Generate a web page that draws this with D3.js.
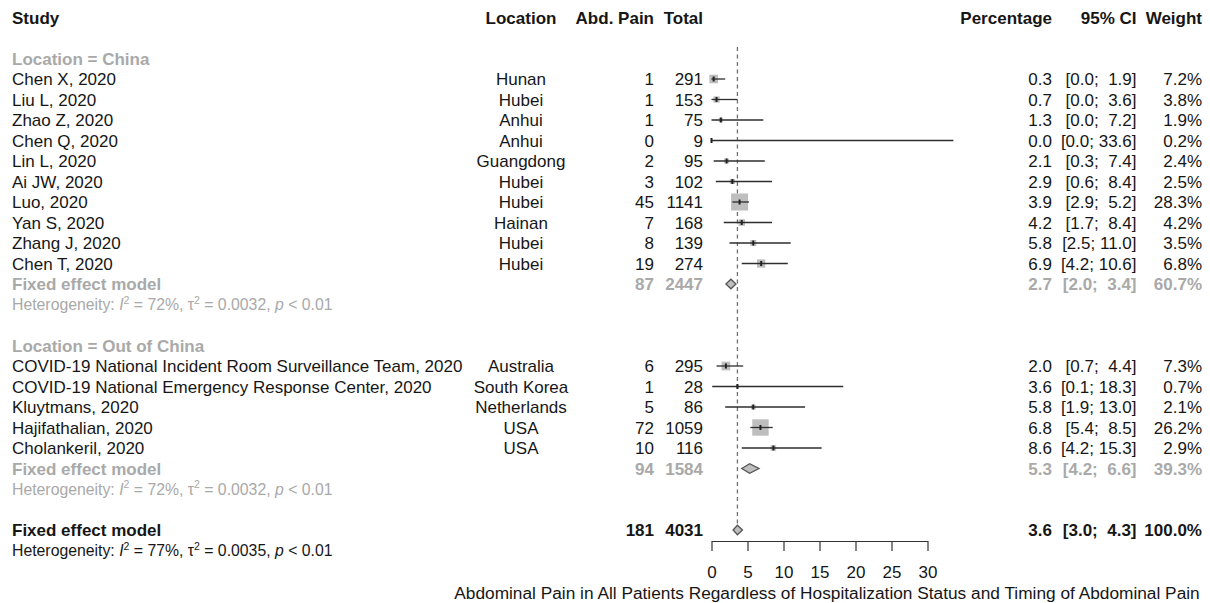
<!DOCTYPE html>
<html>
<head>
<meta charset="utf-8">
<script src="https://cdn.jsdelivr.net/npm/d3@7"></script>
<style>
  html, body { margin: 0; padding: 0; background: #fff; }
  svg text { font-family: "Liberation Sans", Arial, Helvetica, sans-serif; white-space: pre; }
</style>
</head>
<body>
<svg id="chart" width="1210" height="603"></svg>
<script>
// ---------- data ----------
const headers = ["Study", "Location", "Abd. Pain", "Total", "Percentage", "95% CI", "Weight"];

const groupLabels = ["Location = China", "Location = Out of China"];

const studiesChina = ["Chen X, 2020", "Liu L, 2020", "Zhao Z, 2020", "Chen Q, 2020", "Lin L, 2020",
  "Ai JW, 2020", "Luo, 2020", "Yan S, 2020", "Zhang J, 2020", "Chen T, 2020"];
const locationsChina = ["Hunan", "Hubei", "Anhui", "Anhui", "Guangdong", "Hubei", "Hubei", "Hainan", "Hubei", "Hubei"];
const eventsChina = [1, 1, 1, 0, 2, 3, 45, 7, 8, 19];
const totalsChina = [291, 153, 75, 9, 95, 102, 1141, 168, 139, 274];
const estChina = [0.3, 0.7, 1.3, 0.0, 2.1, 2.9, 3.9, 4.2, 5.8, 6.9];
const lowerChina = [0.0, 0.0, 0.0, 0.0, 0.3, 0.6, 2.9, 1.7, 2.5, 4.2];
const upperChina = [1.9, 3.6, 7.2, 33.6, 7.4, 8.4, 5.2, 8.4, 11.0, 10.6];
const weightChina = [7.2, 3.8, 1.9, 0.2, 2.4, 2.5, 28.3, 4.2, 3.5, 6.8];

const studiesOut = ["COVID-19 National Incident Room Surveillance Team, 2020",
  "COVID-19 National Emergency Response Center, 2020", "Kluytmans, 2020", "Hajifathalian, 2020", "Cholankeril, 2020"];
const locationsOut = ["Australia", "South Korea", "Netherlands", "USA", "USA"];
const eventsOut = [6, 1, 5, 72, 10];
const totalsOut = [295, 28, 86, 1059, 116];
const estOut = [2.0, 3.6, 5.8, 6.8, 8.6];
const lowerOut = [0.7, 0.1, 1.9, 5.4, 4.2];
const upperOut = [4.4, 18.3, 13.0, 8.5, 15.3];
const weightOut = [7.3, 0.7, 2.1, 26.2, 2.9];

// subgroup + overall fixed-effect summaries: [China, Out of China, Overall]
const summaryEvents = [87, 94, 181];
const summaryTotals = [2447, 1584, 4031];
const summaryEst = [2.7, 5.3, 3.6];
const summaryLower = [2.0, 4.2, 3.0];
const summaryUpper = [3.4, 6.6, 4.3];
const summaryWeight = [60.7, 39.3, 100.0];
const hetI2 = ["72%", "72%", "77%"];
const hetTau2 = ["0.0032", "0.0032", "0.0035"];
const hetP = ["< 0.01", "< 0.01", "< 0.01"];

const xTicks = [0, 5, 10, 15, 20, 25, 30];
const xLabel = "Abdominal Pain in All Patients Regardless of Hospitalization Status and Timing of Abdominal Pain";

// ---------- layout ----------
const svg = d3.select("#chart");
const FONT = 17, HFONT = 15.8;
const black = "#161616", grey = "#a9a9a9";
const colX = { study: 12, loc: 521, ev: 654, tot: 703, est: 1052, ci: 1136.5, w: 1202 };

const x = d3.scaleLinear().domain([0, 30]).range([711.5, 927.5]);
const y = d3.scaleLinear().domain([0, 1]).range([79, 99.5]); // row index -> y centre

function fmt1(v) { return v.toFixed(1); }
function ciStr(lo, up) {
  let u = fmt1(up); while (u.length < 4) u = " " + u;
  return "[" + fmt1(lo) + "; " + u + "]";
}
function txt(xp, row, s, anchor, opts = {}) {
  return svg.append("text")
    .attr("x", xp).attr("y", y(row) + (opts.size || FONT) * 0.355)
    .attr("text-anchor", anchor)
    .attr("font-size", opts.size || FONT)
    .attr("font-weight", opts.bold ? "bold" : "normal")
    .attr("fill", opts.color || black)
    .text(s);
}

// headers
txt(colX.study, -3, headers[0], "start", { bold: true });
txt(colX.loc, -3, headers[1], "middle", { bold: true });
txt(colX.ev, -3, headers[2], "end", { bold: true });
txt(colX.tot, -3, headers[3], "end", { bold: true });
txt(colX.est, -3, headers[4], "end", { bold: true });
txt(colX.ci, -3, headers[5], "end", { bold: true });
txt(colX.w, -3, headers[6], "end", { bold: true });

// reference (fixed effect) dashed line
svg.append("line")
  .attr("x1", x(summaryEst[2])).attr("x2", x(summaryEst[2]))
  .attr("y1", 47).attr("y2", y(22) - 6)
  .attr("stroke", "#707070").attr("stroke-width", 1.3).attr("stroke-dasharray", "4,3.5");

function studyRows(startRow, names, locs, ev, tot, est, lo, up, w) {
  names.forEach((n, i) => {
    const r = startRow + i;
    txt(colX.study, r, n, "start");
    txt(colX.loc, r, locs[i], "middle");
    txt(colX.ev, r, String(ev[i]), "end");
    txt(colX.tot, r, String(tot[i]), "end");
    txt(colX.est, r, fmt1(est[i]), "end");
    txt(colX.ci, r, ciStr(lo[i], up[i]), "end");
    txt(colX.w, r, fmt1(w[i]) + "%", "end");
    const side = 3.2 * Math.sqrt(w[i]);
    svg.append("rect")
      .attr("x", x(est[i]) - side / 2).attr("y", y(r) - side / 2)
      .attr("width", side).attr("height", side)
      .attr("fill", "#bebebe");
    svg.append("line")
      .attr("x1", x(lo[i])).attr("x2", x(up[i]))
      .attr("y1", y(r)).attr("y2", y(r))
      .attr("stroke", "#2e2e2e").attr("stroke-width", 1.3);
    svg.append("rect")
      .attr("x", x(est[i]) - 1).attr("y", y(r) - 2.5)
      .attr("width", 2).attr("height", 5)
      .attr("fill", "#222");
  });
}

function hetRow(row, k, color) {
  const t = svg.append("text")
    .attr("x", colX.study).attr("y", y(row) + HFONT * 0.355)
    .attr("font-size", HFONT).attr("fill", color);
  t.append("tspan").text("Heterogeneity: ");
  t.append("tspan").attr("font-style", "italic").text("I");
  t.append("tspan").attr("font-size", 10.5).attr("dy", -6.5).text("2");
  t.append("tspan").attr("dy", 6.5).text(" = " + hetI2[k] + ", τ");
  t.append("tspan").attr("font-size", 10.5).attr("dy", -6.5).text("2");
  t.append("tspan").attr("dy", 6.5).text(" = " + hetTau2[k] + ", ");
  t.append("tspan").attr("font-style", "italic").text("p");
  t.append("tspan").text(" " + hetP[k]);
}

function summaryRow(row, k, color) {
  const o = { bold: true, color: color };
  txt(colX.study, row, "Fixed effect model", "start", o);
  txt(colX.ev, row, String(summaryEvents[k]), "end", o);
  txt(colX.tot, row, String(summaryTotals[k]), "end", o);
  txt(colX.est, row, fmt1(summaryEst[k]), "end", o);
  txt(colX.ci, row, ciStr(summaryLower[k], summaryUpper[k]), "end", o);
  txt(colX.w, row, fmt1(summaryWeight[k]) + "%", "end", o);
  const cy = y(row), h = 4.8;
  svg.append("path")
    .attr("d", `M${x(summaryLower[k])},${cy}L${x(summaryEst[k])},${cy - h}L${x(summaryUpper[k])},${cy}L${x(summaryEst[k])},${cy + h}Z`)
    .attr("fill", "#bebebe").attr("stroke", "#555").attr("stroke-width", 1.3);
}

// group China
txt(colX.study, -1, groupLabels[0], "start", { bold: true, color: grey });
studyRows(0, studiesChina, locationsChina, eventsChina, totalsChina, estChina, lowerChina, upperChina, weightChina);
summaryRow(10, 0, grey);
hetRow(11, 0, grey);

// group Out of China
txt(colX.study, 13, groupLabels[1], "start", { bold: true, color: grey });
studyRows(14, studiesOut, locationsOut, eventsOut, totalsOut, estOut, lowerOut, upperOut, weightOut);
summaryRow(19, 1, grey);
hetRow(20, 1, grey);

// overall
summaryRow(22, 2, black);
hetRow(23, 2, black);

// axis
const axis = d3.axisBottom(x).tickValues(xTicks).tickSize(10).tickSizeOuter(0).tickPadding(15);
const gAxis = svg.append("g").attr("transform", "translate(0,541)").call(axis);
gAxis.selectAll("path, line").attr("stroke", "#333").attr("stroke-width", 1.2);
gAxis.selectAll("text").attr("font-size", FONT).attr("fill", black)
  .attr("font-family", "Liberation Sans, Arial, Helvetica, sans-serif");

svg.append("text")
  .attr("x", 827).attr("y", 599)
  .attr("text-anchor", "middle").attr("font-size", 17.3).attr("fill", black)
  .text(xLabel);
</script>
</body>
</html>
